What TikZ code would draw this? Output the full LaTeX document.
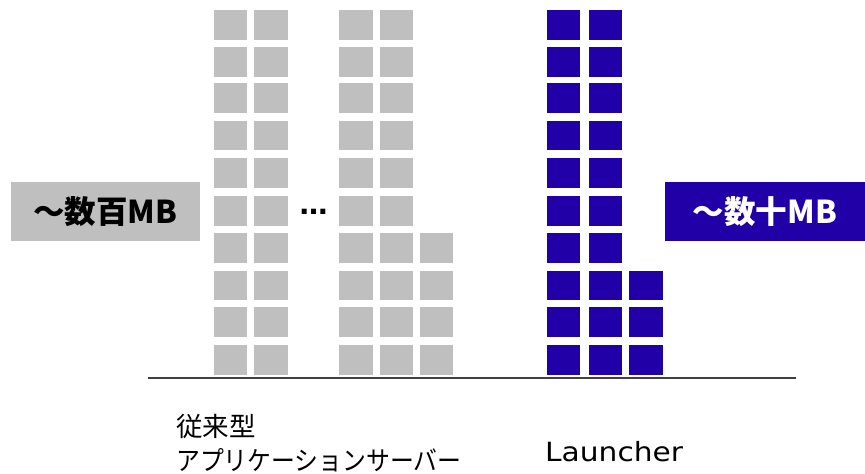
\documentclass[tikz,border=0pt]{standalone}
\usepackage{fontspec}
\newfontfamily\jp{Noto Sans CJK JP}
\newfontfamily\dv{DejaVu Sans}
\definecolor{blockgray}{HTML}{BFBFBF}
\definecolor{blocknavy}{HTML}{2200A8}
\definecolor{axisgray}{HTML}{404040}
\begin{document}
\begin{tikzpicture}[x=1pt,y=-1pt,
  gsq/.style={fill=blockgray},
  bsq/.style={fill=blocknavy},
  sizebox/.style={minimum width=189pt,minimum height=58.5pt,inner sep=0pt,
    font=\jp\bfseries\fontsize{31.5}{31.5}\selectfont},
  caption/.style={anchor=base west,inner sep=0pt,font=\jp\fontsize{26.5}{26.5}\selectfont}]
\useasboundingbox (0,0) rectangle (865,474);
\foreach \r [count=\i] in {10,47,83.3,120.5,158,196,233,270.5,307,345.3} {
  \foreach \c in {214,254.3,339.3,379.7} {\fill[gsq] (\c,\r) rectangle ++(33.3,29.5);}
  \foreach \c in {546.7,588.7} {\fill[bsq] (\c,\r) rectangle ++(33.3,29.5);}
  \ifnum\i>6 \fill[gsq] (420,\r) rectangle ++(33.3,29.5);\fi
  \ifnum\i>7 \fill[bsq] (629.3,\r) rectangle ++(33.3,29.5);\fi
}
\node[sizebox,fill=blockgray,text=black] (oldsize) at (105.5,211.5) {～数百MB};
\node[sizebox,fill=blocknavy,text=white,minimum width=200pt] (newsize) at (765,211.5) {～数十MB};
\node[anchor=base,inner sep=0pt,font=\dv\bfseries\fontsize{28}{28}\selectfont] (dots) at (313.7,214.5) {…};
\coordinate (axisL) at (148,378);
\coordinate (axisR) at (796,378);
\draw[axisgray,line width=2pt] (axisL) -- (axisR);
\node[caption] (oldname1) at (176,436) {従来型};
\node[caption] (oldname2) at (176,470) {\scalebox{0.9}[1]{アプリケーションサーバー}};
\node[anchor=base west,inner sep=0pt,font=\dv\fontsize{26.5}{26.5}\selectfont] (newname) at (545,461) {\scalebox{1.12}[1]{Launcher}};
\end{tikzpicture}
\end{document}
